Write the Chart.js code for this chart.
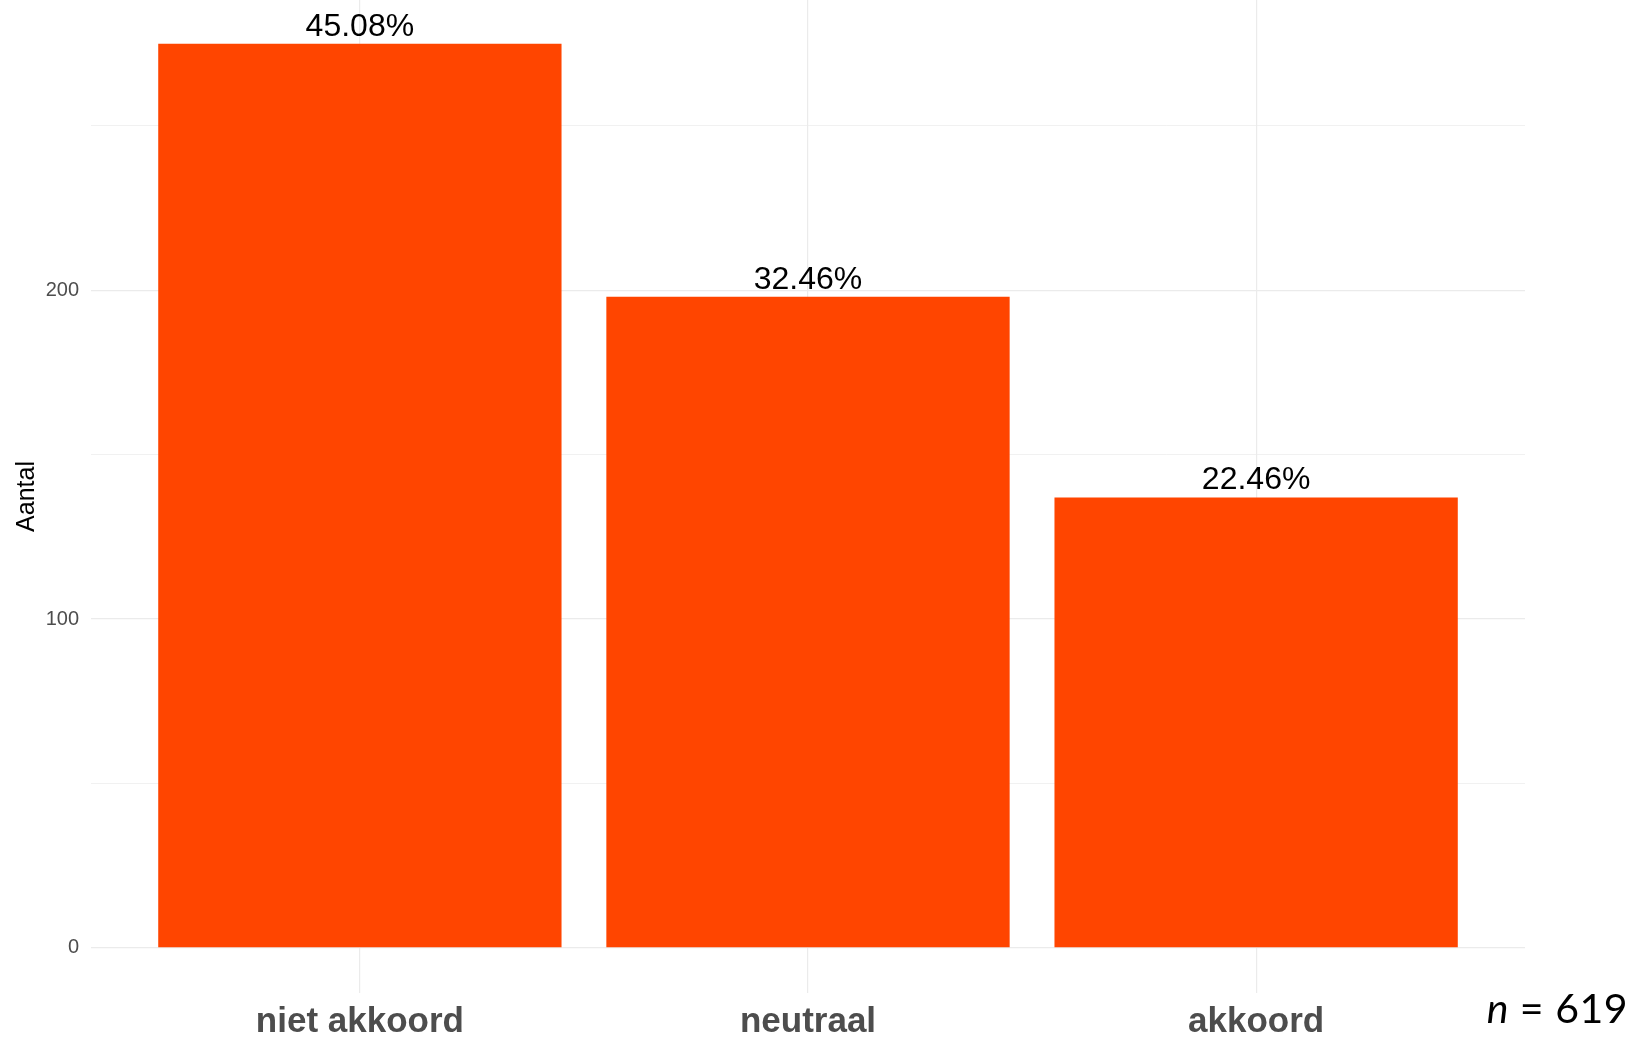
<!DOCTYPE html>
<html>
<head>
<meta charset="utf-8">
<script src="https://cdn.jsdelivr.net/npm/chart.js@4/dist/chart.umd.min.js"></script>
<style>
  html, body { margin: 0; padding: 0; background: #fff; }
  #wrap { position: relative; width: 1636px; height: 1038px; overflow: hidden; }
  #n-label {
    position: absolute; right: 8px; top: 987px;
    font-family: Lato, "Open Sans", sans-serif; font-size: 41px; color: #000;
    letter-spacing: 0.5px; line-height: 1;
  }
</style>
</head>
<body>
<div id="wrap">
  <canvas id="chart" width="1636" height="1038"></canvas>
  <div id="n-label"><i>n</i> = 619</div>
</div>
<script>
const categories = ['niet akkoord', 'neutraal', 'akkoord'];
const counts = [275, 198, 137];
const percentLabels = ['45.08%', '32.46%', '22.46%'];
const yTicks = [0, 50, 100, 150, 200, 250];

const barColor = '#ff4500';
const gridColor = '#ebebeb';

// percentage labels on top of the bars
const percentPlugin = {
  id: 'percentLabels',
  afterDatasetsDraw(chart) {
    const ctx = chart.ctx;
    const meta = chart.getDatasetMeta(0);
    ctx.save();
    ctx.font = '32px "Liberation Sans", Arial, sans-serif';
    ctx.fillStyle = '#000';
    ctx.textAlign = 'center';
    ctx.textBaseline = 'alphabetic';
    meta.data.forEach((bar, i) => {
      ctx.fillText(percentLabels[i], bar.x, bar.y - 8);
    });
    ctx.restore();
  }
};

const ctx = document.getElementById('chart').getContext('2d');
new Chart(ctx, {
  type: 'bar',
  data: {
    datasets: [{
      data: categories.map((c, i) => ({ x: i + 1, y: counts[i] })),
      backgroundColor: barColor,
      borderWidth: 0,
      barPercentage: 0.9,
      categoryPercentage: 1.0
    }]
  },
  options: {
    responsive: false,
    animation: false,
    layout: { padding: { top: 0, right: 111, bottom: 0, left: 0 } },
    plugins: {
      legend: { display: false },
      tooltip: { enabled: false }
    },
    scales: {
      x: {
        type: 'linear',
        min: 0.4,
        max: 3.6,
        offset: false,
        afterBuildTicks: (scale) => { scale.ticks = categories.map((c, i) => ({ value: i + 1 })); },
        afterFit: (scale) => { scale.height = 45; scale.paddingLeft = 0; scale.paddingRight = 0; },
        border: { display: false },
        grid: { color: gridColor, lineWidth: 1.2, drawTicks: false, offset: false },
        ticks: {
          padding: 8,
          color: '#4d4d4d',
          maxRotation: 0,
          font: { family: '"Liberation Sans", Arial, sans-serif', size: 35, weight: 'bold' },
          callback: (value) => categories[value - 1] || ''
        }
      },
      y: {
        min: -13.75,
        max: 288.3,
        afterBuildTicks: (scale) => { scale.ticks = yTicks.map(v => ({ value: v })); },
        afterFit: (scale) => { scale.width = 91; scale.paddingTop = 0; scale.paddingBottom = 0; },
        border: { display: false },
        grid: {
          color: gridColor,
          drawTicks: false,
          lineWidth: (c) => (c.tick && c.tick.value % 100 === 0) ? 1.2 : 0.7
        },
        ticks: {
          padding: 12,
          color: '#4d4d4d',
          font: { family: '"Liberation Sans", Arial, sans-serif', size: 20 },
          callback: (value) => value % 100 === 0 ? String(value) : ''
        },
        title: {
          display: true,
          text: 'Aantal',
          color: '#000',
          padding: { top: 12, bottom: 0 },
          font: { family: '"Liberation Sans", Arial, sans-serif', size: 25 }
        }
      }
    }
  },
  plugins: [percentPlugin]
});
</script>
</body>
</html>
